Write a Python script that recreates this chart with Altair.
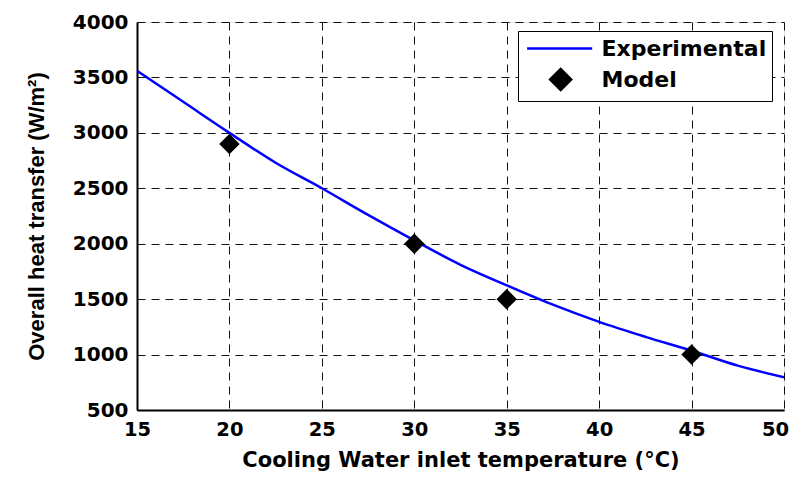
import altair as alt
import pandas as pd

# Experimental curve
exp_x = [15, 17.5, 20, 22.5, 25, 27.5, 30, 32.5, 35, 37.5, 40, 42.5, 45, 47.5, 50]
exp_y = [3560, 3280, 3000, 2730, 2500, 2260, 2030, 1810, 1625, 1450, 1295, 1160, 1035, 900, 795]

# Model points
mod_x = [20, 30, 35, 45]
mod_y = [2900, 2000, 1500, 1000]

series_names = ["Experimental", "Model"]
series_colors = ["#0000ff", "#000000"]
x_ticks = [15, 20, 25, 30, 35, 40, 45, 50]
y_ticks = [500, 1000, 1500, 2000, 2500, 3000, 3500, 4000]

exp_df = pd.DataFrame({"x": exp_x, "y": exp_y})
mod_df = pd.DataFrame({"x": mod_x, "y": mod_y})
leg_df = pd.DataFrame({"series": series_names})

LAB_FONT = "DejaVu Sans"

x_enc = alt.X(
    "x:Q",
    scale=alt.Scale(domain=[15, 50], nice=False),
    axis=alt.Axis(
        values=x_ticks,
        format="d",
        title="Cooling Water inlet temperature (°C)",
        titleFont=LAB_FONT, titleFontSize=21, titleFontWeight="bold",
        titleColor="black", titlePadding=11,
        labelFont=LAB_FONT, labelFontSize=19.5, labelFontWeight="bold",
        labelColor="black", labelPadding=10, labelFlush=False,
        labelOffset={"condition": {"test": "datum.value == 50", "value": -9}, "value": 0},
        ticks=False, domainColor="black", domainWidth=2,
        grid=True, gridColor="#111111", gridDash=[8, 6], gridWidth=1,
    ),
)
y_enc = alt.Y(
    "y:Q",
    scale=alt.Scale(domain=[500, 4000], nice=False),
    axis=alt.Axis(
        values=y_ticks,
        format="d",
        title="Overall heat transfer (W/m²)",
        titleFont="Liberation Sans", titleFontSize=22, titleFontWeight="bold",
        titleColor="black", titlePadding=24,
        labelFont=LAB_FONT, labelFontSize=20, labelFontWeight="bold",
        labelColor="black", labelPadding=9, labelFlush=False,
        ticks=False, domainColor="black", domainWidth=2,
        grid=True, gridColor="#111111", gridDash=[8, 6], gridWidth=1,
    ),
)

line = alt.Chart(exp_df).mark_line(
    color="#0000ff", strokeWidth=2.5, interpolate="monotone", clip=True
).encode(x=x_enc, y=y_enc)

points = alt.Chart(mod_df).mark_point(
    shape="diamond", filled=True, color="black", size=420, opacity=1
).encode(x="x:Q", y="y:Q")

line_path = "M-0.8,0H5.4"
diamond_path = "M1.4,0L2.4,-1L3.4,0L2.4,1Z"

legend = alt.Legend(
    title=None,
    orient="none",
    legendX=381,
    legendY=9,
    padding=5.5,
    strokeColor="black",
    fillColor="white",
    labelFont=LAB_FONT,
    labelFontSize=22,
    labelFontWeight="bold",
    labelColor="black",
    labelOffset=54,
    labelLimit=400,
    rowPadding=4,
    symbolSize=441,
    symbolStrokeWidth=2.5,
    symbolOpacity=1,
)

legend_layer = alt.Chart(leg_df).mark_point(size=441, filled=True, opacity=1).encode(
    x=alt.value(0),
    y=alt.value(0),
    shape=alt.Shape("series:N", scale=alt.Scale(domain=series_names, range=[line_path, diamond_path]), legend=legend),
    fill=alt.Fill("series:N", scale=alt.Scale(domain=series_names, range=series_colors), legend=legend),
    stroke=alt.Stroke("series:N", scale=alt.Scale(domain=series_names, range=series_colors), legend=legend),
).transform_filter("false")

chart = alt.layer(line, points, legend_layer).properties(
    width=647,
    height=388,
    autosize=alt.AutoSizeParams(type="none"),
    padding={"left": 129, "top": 14, "right": 5, "bottom": 66},
).configure_view(
    stroke="black", strokeWidth=2
).configure(background="white")

chart.save("out.html", embed_options={"renderer": "svg", "actions": False})
